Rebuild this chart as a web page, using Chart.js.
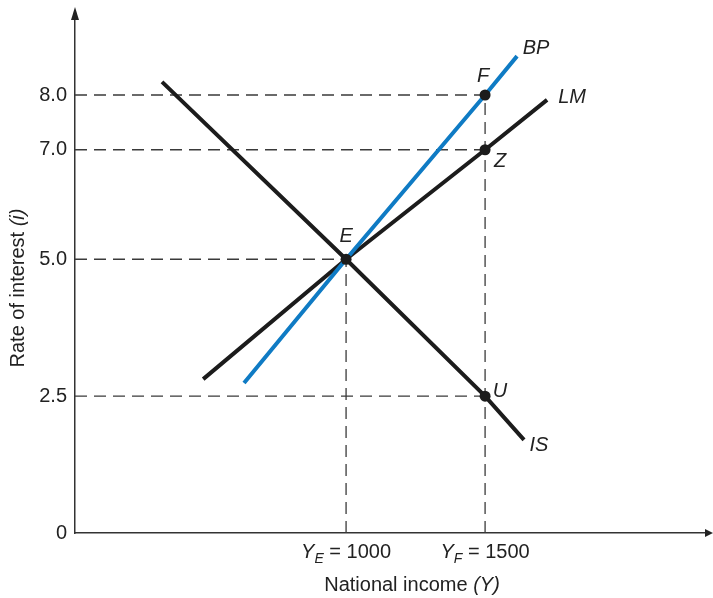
<!DOCTYPE html>
<html lang="en">
<head>
    <meta charset="UTF-8">
    <title>IS-LM-BP</title>
    <script src="https://cdn.jsdelivr.net/npm/chart.js"></script>
    <style>
        body {
            margin: 0;
            background: #fff;
        }
        canvas {
            display: block;
        }
    </style>
</head>
<body>
    <canvas id="chart" width="713" height="598"></canvas>

    <script>
        // Curves (national income Y, rate of interest i)
        const isX = [338, 1000, 1500, 1640];
        const isY = [8.24, 5, 2.5, 1.7];
        const lmX = [486, 1000, 1500, 1723];
        const lmY = [2.81, 5, 7, 7.91];
        const bpX = [633, 1000, 1500, 1615];
        const bpY = [2.74, 5, 8, 8.71];

        // Labelled points
        const pointNames = ['E', 'F', 'Z', 'U'];
        const pointX = [1000, 1500, 1500, 1500];
        const pointY = [5, 8, 7, 2.5];

        // Ticks
        const yTicks = [0, 2.5, 5, 7, 8];
        const xTicks = [1000, 1500];
        const xTickSubs = ['E', 'F'];

        const xMin = 25, xMax = 2291, yMax = 9.37;
        const FONT = '"Liberation Sans", Arial, sans-serif';
        const BLUE = '#0f7bc4';
        const INK = '#1c1c1c';

        Chart.defaults.font.family = FONT;
        Chart.defaults.font.size = 20;
        Chart.defaults.color = '#222';

        const toXY = (xs, ys) => xs.map((x, i) => ({ x: x, y: ys[i] }));

        // dashed guide lines from the axes to each point
        const guides = [];
        pointX.forEach((x, i) => {
            guides.push([{ x: xMin, y: pointY[i] }, { x: x, y: pointY[i] }]);
        });
        xTicks.forEach(x => {
            const top = Math.max(...pointY.filter((y, i) => pointX[i] === x));
            guides.push([{ x: x, y: 0 }, { x: x, y: top }]);
        });

        const datasets = [
            {
                data: toXY(pointX, pointY),
                showLine: false,
                pointRadius: 5.5,
                pointBackgroundColor: INK,
                pointBorderWidth: 0
            },
            { data: toXY(bpX, bpY), borderColor: BLUE, borderWidth: 4, pointRadius: 0 },
            { data: toXY(lmX, lmY), borderColor: INK, borderWidth: 4, pointRadius: 0 },
            { data: toXY(isX, isY), borderColor: INK, borderWidth: 4, pointRadius: 0 }
        ];
        guides.forEach(g => datasets.push({
            data: g,
            borderColor: '#3a3a3a',
            borderWidth: 1.3,
            borderDash: [12, 7],
            pointRadius: 0
        }));

        // label offsets in pixels from curve ends / points
        const curveLabels = [
            { text: 'BP', xs: bpX, ys: bpY, dx: 19, dy: -8 },
            { text: 'LM', xs: lmX, ys: lmY, dx: 25, dy: -2 },
            { text: 'IS', xs: isX, ys: isY, dx: 15, dy: 6 }
        ];
        const pointOffsets = { E: [0, -23], F: [-2, -19], Z: [15, 12], U: [15, -5] };

        const annotate = {
            id: 'annotate',
            afterDatasetsDraw(chart) {
                const { ctx, chartArea: a, scales: { x, y } } = chart;
                ctx.save();
                ctx.fillStyle = '#222';

                // axis arrows
                ctx.beginPath();
                ctx.moveTo(a.left, a.top - 13);
                ctx.lineTo(a.left - 4, a.top);
                ctx.lineTo(a.left + 4, a.top);
                ctx.closePath();
                ctx.fill();
                ctx.beginPath();
                ctx.moveTo(a.right + 8, a.bottom);
                ctx.lineTo(a.right, a.bottom - 4);
                ctx.lineTo(a.right, a.bottom + 4);
                ctx.closePath();
                ctx.fill();

                // curve and point labels
                ctx.font = 'italic 20px ' + FONT;
                ctx.textAlign = 'center';
                ctx.textBaseline = 'middle';
                curveLabels.forEach(c => {
                    const n = c.xs.length - 1;
                    ctx.fillText(c.text, x.getPixelForValue(c.xs[n]) + c.dx, y.getPixelForValue(c.ys[n]) + c.dy);
                });
                pointNames.forEach((name, i) => {
                    const off = pointOffsets[name];
                    ctx.fillText(name, x.getPixelForValue(pointX[i]) + off[0], y.getPixelForValue(pointY[i]) + off[1]);
                });

                // x tick labels with subscripts
                ctx.textAlign = 'left';
                ctx.textBaseline = 'alphabetic';
                xTicks.forEach((v, i) => {
                    const parts = [
                        ['italic 20px ', 'Y', 0],
                        ['italic 14px ', xTickSubs[i], 5],
                        ['20px ', ' = ' + v, 0]
                    ];
                    let w = 0;
                    parts.forEach(p => { ctx.font = p[0] + FONT; w += ctx.measureText(p[1]).width; });
                    let px = x.getPixelForValue(v) - w / 2;
                    parts.forEach(p => {
                        ctx.font = p[0] + FONT;
                        ctx.fillText(p[1], px, a.bottom + 25 + p[2]);
                        px += ctx.measureText(p[1]).width;
                    });
                });

                // axis titles with italic symbols
                const mixed = (parts, cx, cy) => {
                    let w = 0;
                    parts.forEach(p => { ctx.font = p[0] + FONT; w += ctx.measureText(p[1]).width; });
                    let px = cx - w / 2;
                    parts.forEach(p => {
                        ctx.font = p[0] + FONT;
                        ctx.fillText(p[1], px, cy);
                        px += ctx.measureText(p[1]).width;
                    });
                };
                ctx.textBaseline = 'middle';
                mixed([['20px ', 'National income '], ['italic 20px ', '(Y)']], (a.left + a.right) / 2 + 22, a.bottom + 52);
                ctx.translate(18, 288);
                ctx.rotate(-Math.PI / 2);
                mixed([['20px ', 'Rate of interest '], ['italic 20px ', '(i)']], 0, 0);

                ctx.restore();
            }
        };

        new Chart(document.getElementById('chart'), {
            type: 'line',
            data: { datasets: datasets },
            options: {
                responsive: false,
                animation: false,
                layout: { padding: { top: 20, right: 8, left: 0, bottom: 0 } },
                plugins: {
                    legend: { display: false },
                    tooltip: { enabled: false }
                },
                elements: { line: { tension: 0, fill: false } },
                scales: {
                    x: {
                        type: 'linear',
                        min: xMin,
                        max: xMax,
                        grid: { display: false, drawTicks: false },
                        border: { display: true, color: '#333', width: 1.5 },
                        ticks: { display: false },
                        afterFit: s => { s.height = 65; }
                    },
                    y: {
                        type: 'linear',
                        min: 0,
                        max: yMax,
                        grid: { display: false, drawTicks: false },
                        border: { display: true, color: '#333', width: 1.5 },
                        afterBuildTicks: s => { s.ticks = yTicks.map(v => ({ value: v })); },
                        ticks: {
                            padding: 8,
                            color: '#222',
                            font: { size: 20 },
                            callback: v => v === 0 ? '0' : v.toFixed(1)
                        },
                        afterFit: s => { s.width = 75; }
                    }
                }
            },
            plugins: [annotate]
        });
    </script>
</body>
</html>
